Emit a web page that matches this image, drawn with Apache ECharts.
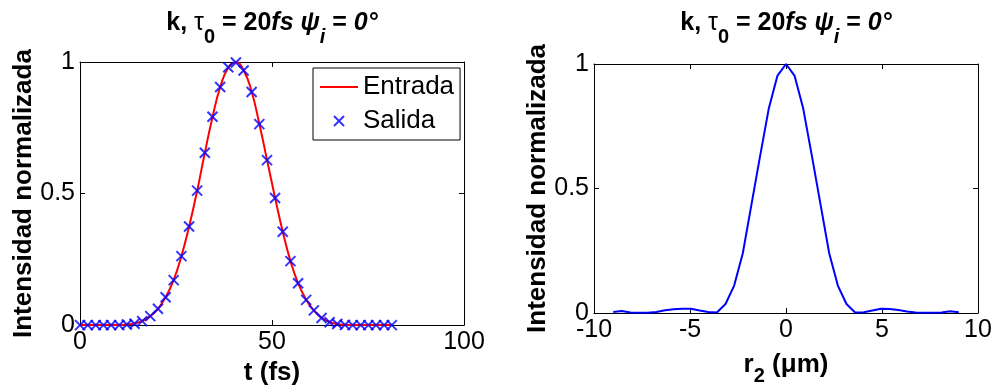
<!DOCTYPE html>
<html>
<head>
<meta charset="utf-8">
<script src="https://cdn.jsdelivr.net/npm/echarts@6/dist/echarts.min.js"></script>
<style>
  html, body { margin: 0; padding: 0; background: #fff; }
  #chart { width: 995px; height: 391px; }
</style>
</head>
<body>
<div id="chart"></div>
<script>
// left panel: pulse in time (fs)
const tTimes = [
  0, 2, 4.1, 6.1, 8.1, 10.2, 12.2, 14.2, 16.2, 18.3,
  20.3, 22.3, 24.4, 26.4, 28.4, 30.5, 32.5, 34.5, 36.5, 38.6,
  40.6, 42.6, 44.7, 46.7, 48.7, 50.8, 52.8, 54.8, 56.8, 58.9,
  60.9, 62.9, 65, 67, 69, 71, 73.1, 75.1, 77.1, 79.2, 81.2
]
const entrada = [
  0, 0, 0, 0, 0, 0, 0.002, 0.006, 0.016, 0.034,
  0.062, 0.106, 0.172, 0.262, 0.374, 0.51, 0.654, 0.79, 0.904, 0.978,
  0.999, 0.969, 0.887, 0.765, 0.628, 0.484, 0.355, 0.244, 0.159, 0.096,
  0.056, 0.028, 0.012, 0.004, 0.001, 0, 0, 0, 0, 0, 0
]
const salida = [
  0, 0, 0, 0, 0, 0, 0.002, 0.005, 0.015, 0.034,
  0.062, 0.106, 0.171, 0.262, 0.375, 0.511, 0.655, 0.792, 0.905, 0.98,
  0.998, 0.968, 0.886, 0.764, 0.627, 0.483, 0.355, 0.243, 0.159, 0.096,
  0.056, 0.027, 0.011, 0.004, 0.001, 0, 0, 0, 0, 0, 0
]

// right panel: transverse profile (um)
const rPos = [
  -9, -8.55, -8.1, -7.65, -7.2, -6.75, -6.3, -5.85, -5.4, -4.95,
  -4.5, -4.05, -3.6, -3.15, -2.7, -2.25, -1.8, -1.35, -0.9, -0.45,
  0, 0.45, 0.9, 1.35, 1.8, 2.25, 2.7, 3.15, 3.6, 4.05,
  4.5, 4.95, 5.4, 5.85, 6.3, 6.75, 7.2, 7.65, 8.1, 8.55, 9
]
const rIntensity = [
  0.004, 0.008, 0.002, 0.001, 0.001, 0.004, 0.011, 0.015, 0.017, 0.017,
  0.01, 0.004, 0.002, 0.036, 0.11, 0.24, 0.435, 0.63, 0.82, 0.952,
  1, 0.952, 0.82, 0.63, 0.435, 0.24, 0.11, 0.036, 0.002, 0.003,
  0.01, 0.017, 0.016, 0.012, 0.006, 0.002, 0.001, 0.001, 0.002, 0.007, 0.003
]

const FONT = 'Liberation Sans, Arial, Helvetica, sans-serif'
const X_MARK = 'path://M0,0L10,10M10,0L0,10'

const chart = echarts.init(document.getElementById('chart'), null, { renderer: 'canvas' })

function titleRich() {
  const base = { fontFamily: FONT, fontSize: 25, fontWeight: 'bold', lineHeight: 26, verticalAlign: 'top', fill: '#000' }
  return {
    b: base,
    bi: { ...base, fontStyle: 'italic' },
    g: { ...base, fontWeight: 'normal' },
    sb: { ...base, fontSize: 20, lineHeight: 20, padding: [16, 0, 0, 0] },
    sbi: { ...base, fontSize: 20, lineHeight: 20, fontStyle: 'italic', padding: [16, 0, 0, 0] },
  }
}

const TITLE = '{b|k, }{g|τ}{sb|0}{b| = 20}{bi|fs}{b| }{bi|ψ}{sbi|i}{b| = }{bi|0°}'

function frameAxis(pos, gridIndex, min, max, interval, withLabels) {
  return {
    type: 'value',
    gridIndex,
    position: pos,
    min,
    max,
    interval,
    axisLine: { show: true, onZero: false, lineStyle: { color: '#000', width: 1 } },
    axisTick: { show: true, inside: true, length: 5, lineStyle: { color: '#000' } },
    axisLabel: {
      show: withLabels,
      color: '#000',
      fontFamily: FONT,
      fontSize: 25,
      margin: 5,
    },
    splitLine: { show: false },
  }
}

const yName = {
  name: 'Intensidad normalizada',
  nameLocation: 'middle',
  nameRotate: 90,
  nameGap: 38,
  nameTextStyle: { color: '#000', fontFamily: FONT, fontSize: 26, fontWeight: 'bold' },
}

const option = {
  animation: false,
  backgroundColor: '#fff',
  grid: [
    { left: 80, top: 62, width: 384, height: 267 },
    { left: 594, top: 64, width: 384, height: 255 },
  ],
  xAxis: [
    {
      ...frameAxis('bottom', 0, 0, 100, 50, true),
      name: 't (fs)',
      nameLocation: 'middle',
      nameGap: 33,
      nameTextStyle: { color: '#000', fontFamily: FONT, fontSize: 26, fontWeight: 'bold' },
    },
    frameAxis('top', 0, 0, 100, 50, false),
    {
      ...frameAxis('bottom', 1, -10, 10, 5, true),
      name: '{n|r}{s|2}{n| (μm)}',
      nameLocation: 'middle',
      nameGap: 39,
      nameTextStyle: {
        color: '#000',
        rich: {
          n: { fontFamily: FONT, fontSize: 26, fontWeight: 'bold', lineHeight: 27, verticalAlign: 'top' },
          s: { fontFamily: FONT, fontSize: 20, fontWeight: 'bold', lineHeight: 20, verticalAlign: 'top', padding: [14, 0, 0, 0] },
        },
      },
    },
    frameAxis('top', 1, -10, 10, 5, false),
  ],
  yAxis: [
    { ...frameAxis('left', 0, 0, 1, 0.5, true), ...yName },
    frameAxis('right', 0, 0, 1, 0.5, false),
    { ...frameAxis('left', 1, 0, 1, 0.5, true), ...yName },
    frameAxis('right', 1, 0, 1, 0.5, false),
  ],
  legend: {
    orient: 'vertical',
    left: 313,
    top: 68,
    padding: [6, 6, 6, 6],
    itemGap: 8,
    itemWidth: 38,
    itemHeight: 10,
    borderColor: '#000',
    borderWidth: 1,
    backgroundColor: '#fff',
    textStyle: { color: '#000', fontFamily: FONT, fontSize: 26 },
    data: [
      { name: 'Entrada', itemStyle: { opacity: 0 } },
      { name: 'Salida' },
    ],
  },
  graphic: [
    {
      type: 'text',
      x: 272,
      y: 11,
      style: { text: TITLE, rich: titleRich(), align: 'center', verticalAlign: 'top', fill: '#000' },
    },
    {
      type: 'text',
      x: 786,
      y: 11,
      style: { text: TITLE, rich: titleRich(), align: 'center', verticalAlign: 'top', fill: '#000' },
    },
  ],
  series: [
    {
      name: 'Entrada',
      type: 'line',
      xAxisIndex: 0,
      yAxisIndex: 0,
      data: tTimes.map((t, i) => [t, entrada[i]]),
      smooth: true,
      showSymbol: false,
      symbol: 'none',
      clip: false,
      lineStyle: { color: '#ff0000', width: 2 },
      itemStyle: { color: '#ff0000' },
      z: 2,
    },
    {
      name: 'Salida',
      type: 'scatter',
      xAxisIndex: 0,
      yAxisIndex: 0,
      data: tTimes.map((t, i) => [t, salida[i]]),
      symbol: X_MARK,
      symbolSize: 10,
      clip: false,
      itemStyle: { color: 'none', borderColor: '#0000ff', borderWidth: 2 },
      z: 3,
    },
    {
      name: 'perfil',
      type: 'line',
      xAxisIndex: 2,
      yAxisIndex: 2,
      data: rPos.map((r, i) => [r, rIntensity[i]]),
      showSymbol: false,
      symbol: 'none',
      clip: false,
      lineStyle: { color: '#0000ff', width: 2 },
    },
  ],
}

chart.setOption(option)
</script>
</body>
</html>
